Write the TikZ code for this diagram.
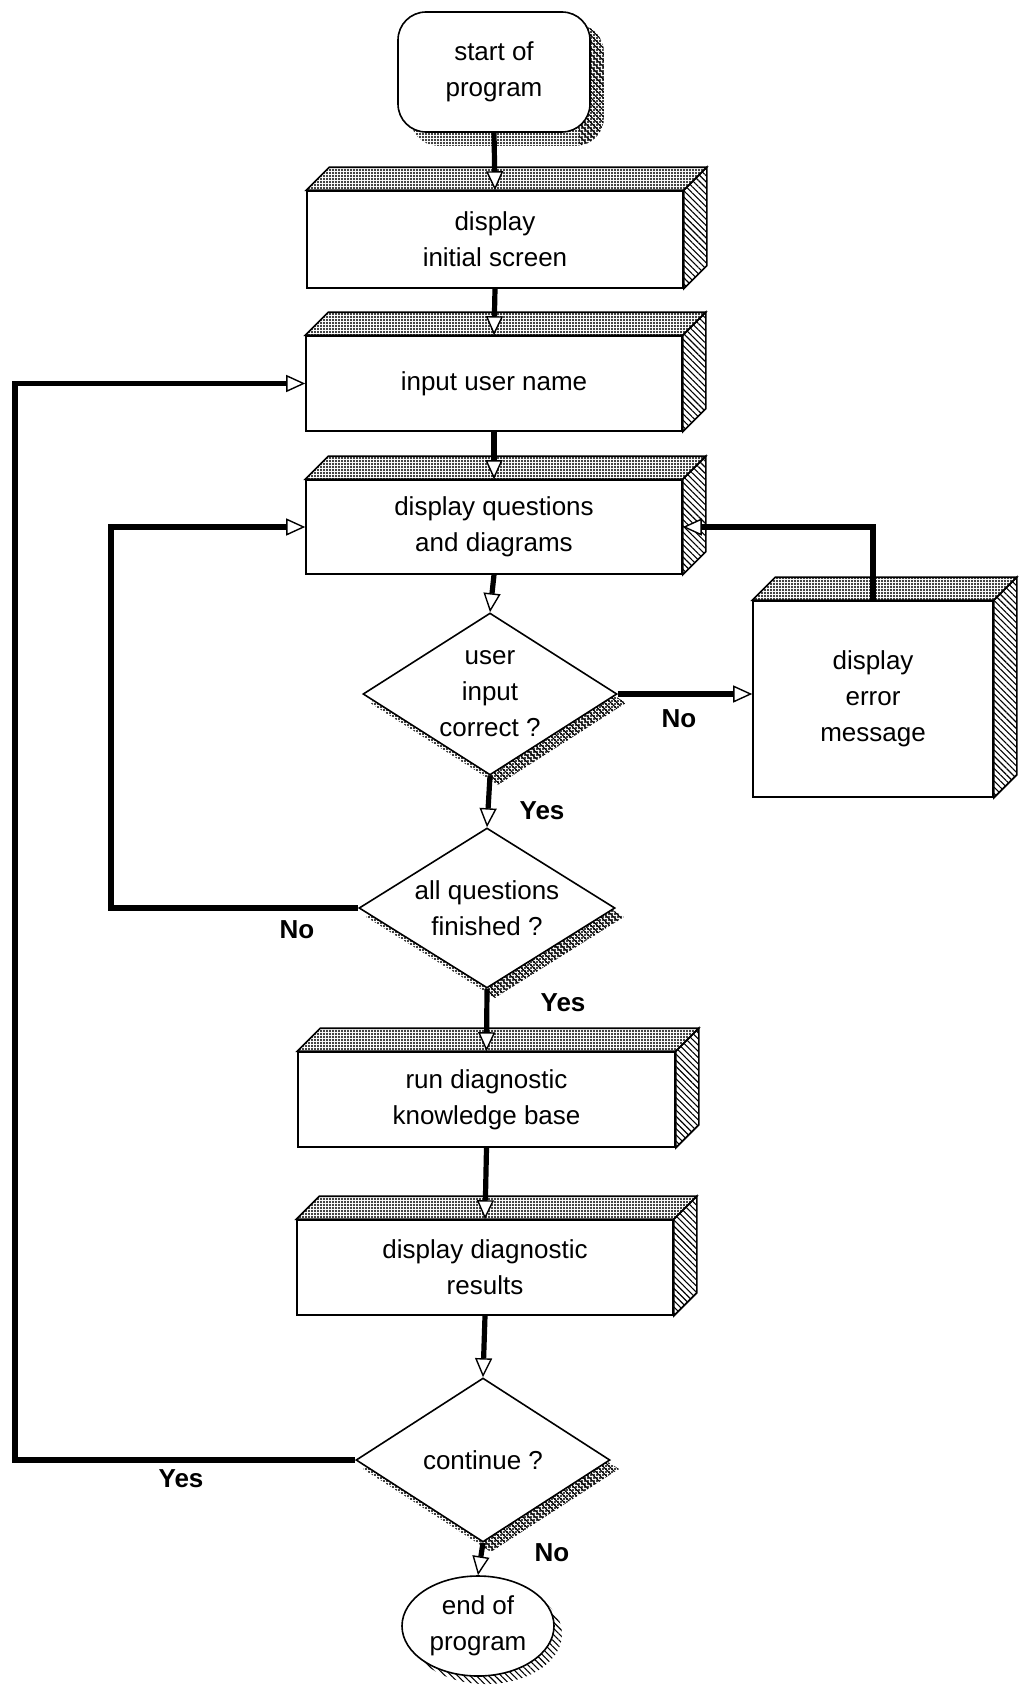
\documentclass[tikz,border=0pt]{standalone}
\usepackage{fontspec}
\setmainfont{Liberation Sans}
\usetikzlibrary{shapes.geometric,arrows.meta,patterns.meta,calc,backgrounds}

\tikzset{
  txt/.style={font=\fontsize{13}{18}\selectfont, align=center},
  front/.style={draw, line width=0.8pt, fill=white, inner sep=0pt, txt},
  decision/.style={diamond, draw, line width=0.8pt, fill=white, inner sep=0pt},
  terminal/.style={ellipse, draw, line width=0.8pt, fill=white, inner sep=0pt, txt},
  stipple/.style={pattern={Dots[distance=1.5pt,radius=0.55pt]}},
  hatch/.style={pattern={Lines[angle=-45,distance=2.2pt,line width=0.55pt]}},
  face/.style={draw, line width=0.8pt},
  flow/.style={line width=2.6pt, -{Triangle[length=9.5pt,width=8.5pt,fill=white,line width=0.7pt]}},
  lbl/.style={font=\fontsize{13}{16}\selectfont\bfseries},
}

% top and side faces of an extruded process box
\newcommand\slabfaces[1]{%
  \filldraw[face,stipple] (#1.north west) -- ++(23,-23) -- ($(#1.north east)+(23,-23)$) -- (#1.north east) -- cycle;
  \filldraw[face,hatch] (#1.north east) -- ++(23,-23) -- ($(#1.south east)+(23,-23)$) -- (#1.south east) -- cycle;}

% drop shadow of a decision diamond
\newcommand\diamondshade[1]{%
  \path[stipple] ($(#1.north)+(8,9)$) -- ($(#1.east)+(8,9)$) -- ($(#1.south)+(8,9)$) -- ($(#1.west)+(8,9)$) -- cycle;
  \begin{scope}
    \clip ($(#1.north)+(0,-20)$) rectangle ($(#1.south)+(200,40)$);
    \path[hatch] ($(#1.north)+(8,9)$) -- ($(#1.east)+(8,9)$) -- ($(#1.south)+(8,9)$) -- ($(#1.west)+(8,9)$) -- cycle;
  \end{scope}}

\begin{document}
\begin{tikzpicture}[x=0.5pt,y=-0.5pt]
\useasboundingbox (0,0) rectangle (1018,1691);

% nodes
\node[front, rounded corners=14pt, minimum width=96pt, minimum height=60pt] (start) at (494,72) {start of\\program};
\node[front, minimum width=188pt, minimum height=48.5pt] (b2) at (495,239.5) {display\\initial screen};
\node[front, minimum width=188pt, minimum height=47.5pt] (b3) at (494,383.5) {input user name};
\node[front, minimum width=188pt, minimum height=47pt] (b4) at (494,527) {display questions\\and diagrams};
\node[decision, minimum width=127pt, minimum height=81pt] (d1) at (490,694) {};
\node[txt] (d1t) at (d1) {user\\input\\correct ?};
\node[front, minimum width=120pt, minimum height=98pt] (err) at (873,699) {display\\error\\message};
\node[decision, minimum width=128pt, minimum height=80pt] (d2) at (487,908) {};
\node[txt] (d2t) at (d2) {all questions\\finished ?};
\node[front, minimum width=188.5pt, minimum height=47.5pt] (b5) at (486.5,1099.5) {run diagnostic\\knowledge base};
\node[front, minimum width=188pt, minimum height=47.5pt] (b6) at (485,1267.5) {display diagnostic\\results};
\node[decision, minimum width=127pt, minimum height=82pt] (d3) at (483,1460) {};
\node[txt] (d3t) at (d3) {continue ?};
\node[terminal, minimum width=76pt, minimum height=50pt] (end) at (478,1626) {end of\\program};

% shadows
\begin{scope}[on background layer]
  \path[stipple, rounded corners=14pt] ($(start.south west)+(13,13)$) rectangle ($(start.north east)+(13,13)$);
  \begin{scope}
    \clip ($(start.north east)+(-12,-40)$) rectangle ($(start.south east)+(40,40)$);
    \path[hatch, rounded corners=14pt] ($(start.south west)+(13,13)$) rectangle ($(start.north east)+(13,13)$);
  \end{scope}
  \diamondshade{d1}
  \diamondshade{d2}
  \diamondshade{d3}
  \path[hatch] ($(end.center)+(8,8)$) ellipse [x radius=38pt, y radius=25pt];
\end{scope}

% extruded faces
\slabfaces{b2}
\slabfaces{b3}
\slabfaces{b4}
\slabfaces{err}
\slabfaces{b5}
\slabfaces{b6}

% loop-back rails
\coordinate (railA) at (15,0);
\coordinate (railB) at (111,0);

% connectors
\draw[flow] (start.south) -- (b2.north);
\draw[flow] (b2.south) -- (b3.north);
\draw[flow] (b3.south) -- (b4.north);
\draw[flow] (b4.south) -- (d1.north);
\draw[flow] (d1.south) -- (d2.north);
\draw[flow] (d1.east) -- (d1.east -| err.west);
\draw[flow] (err.north) |- (b4.east);
\draw[flow] (d2.west) -- (d2.west -| railB) -- (railB |- b4.west) -- (b4.west);
\draw[flow] (d2.south) -- (b5.north);
\draw[flow] (b5.south) -- (b6.north);
\draw[flow] (b6.south) -- (d3.north);
\draw[flow] (d3.south) -- (end.north);
\draw[flow] (d3.west) -- (d3.west -| railA) -- (railA |- b3.west) -- (b3.west);

% branch labels
\node[lbl] (yes1) at (542,811) {Yes};
\node[lbl] (no1) at (679,719) {No};
\node[lbl] (no2) at (297,930) {No};
\node[lbl] (yes2) at (563,1003) {Yes};
\node[lbl] (yes3) at (181,1479) {Yes};
\node[lbl] (no3) at (552,1553) {No};
\end{tikzpicture}
\end{document}
